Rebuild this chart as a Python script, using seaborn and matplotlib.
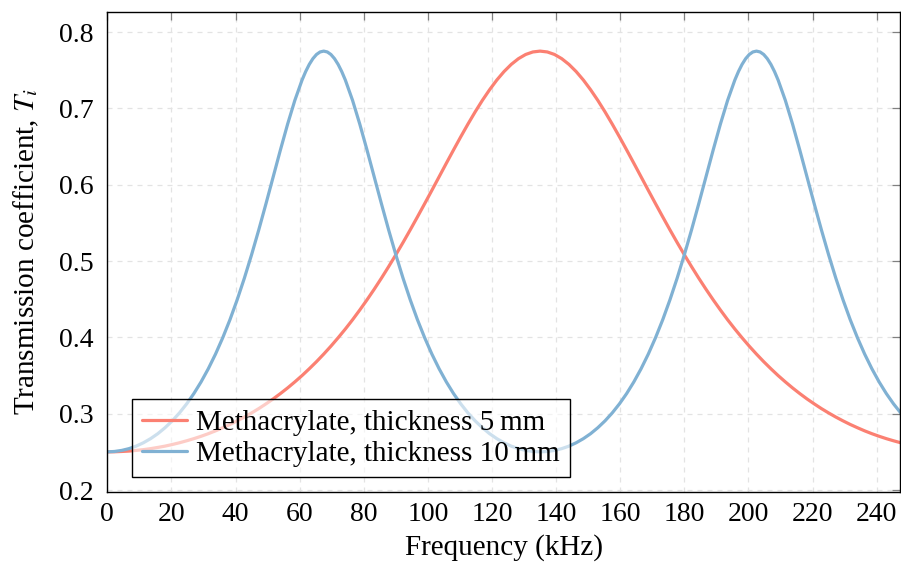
import pandas as pd
import seaborn as sns
import matplotlib.pyplot as plt

# Werte (Frequenz in kHz, Transmissionskoeffizient T_i)
freq_5mm = [0, 2.25, 4.5, 6.75, 9, 11.25, 13.5, 15.75, 18, 20.25, 22.5, 24.75, 27, 29.25,
            31.5, 33.75, 36, 38.25, 40.5, 42.75, 45, 47.25, 49.5, 51.75, 54, 56.25, 58.5,
            60.75, 63, 65.25, 67.5, 69.75, 72, 74.25, 76.5, 78.75, 81, 83.25, 85.5, 87.75,
            90, 92.25, 94.5, 96.75, 99, 101.25, 103.5, 105.75, 108, 110.25, 112.5, 114.75,
            117, 119.25, 121.5, 123.75, 126, 128.25, 130.5, 132.75, 135, 137.25, 139.5,
            141.75, 144, 146.25, 148.5, 150.75, 153, 155.25, 157.5, 159.75, 162, 164.25,
            166.5, 168.75, 171, 173.25, 175.5, 177.75, 180, 182.25, 184.5, 186.75, 189,
            191.25, 193.5, 195.75, 198, 200.25, 202.5, 204.75, 207, 209.25, 211.5, 213.75,
            216, 218.25, 220.5, 222.75, 225, 227.25, 229.5, 231.75, 234, 236.25, 238.5,
            240.75, 243, 245.25, 247.5]

t_5mm = [0.2500, 0.2501, 0.2505, 0.2510, 0.2519, 0.2529, 0.2542, 0.2558, 0.2575, 0.2596,
         0.2619, 0.2645, 0.2673, 0.2704, 0.2738, 0.2775, 0.2816, 0.2859, 0.2906, 0.2956,
         0.3010, 0.3067, 0.3129, 0.3194, 0.3264, 0.3338, 0.3417, 0.3500, 0.3589, 0.3682,
         0.3781, 0.3885, 0.3995, 0.4110, 0.4231, 0.4359, 0.4492, 0.4631, 0.4776, 0.4927,
         0.5083, 0.5244, 0.5410, 0.5580, 0.5753, 0.5928, 0.6105, 0.6282, 0.6457, 0.6629,
         0.6796, 0.6956, 0.7107, 0.7246, 0.7373, 0.7484, 0.7578, 0.7653, 0.7708, 0.7741,
         0.7752,
         0.7741, 0.7708, 0.7653, 0.7578, 0.7484, 0.7373, 0.7246, 0.7107, 0.6956, 0.6796,
         0.6629, 0.6457, 0.6282, 0.6105, 0.5928, 0.5753, 0.5580, 0.5410, 0.5244, 0.5083,
         0.4927, 0.4776, 0.4631, 0.4492, 0.4359, 0.4231, 0.4110, 0.3995, 0.3885, 0.3781,
         0.3682, 0.3589, 0.3500, 0.3417, 0.3338, 0.3264, 0.3194, 0.3129, 0.3067, 0.3010,
         0.2956, 0.2906, 0.2859, 0.2816, 0.2775, 0.2738, 0.2704, 0.2673, 0.2645, 0.2619]

freq_10mm = [0, 2.25, 4.5, 6.75, 9, 11.25, 13.5, 15.75, 18, 20.25, 22.5, 24.75, 27, 29.25,
             31.5, 33.75, 36, 38.25, 40.5, 42.75, 45, 47.25, 49.5, 51.75, 54, 56.25, 58.5,
             60.75, 61.875, 63, 64.125, 65.25, 66.375, 67.5, 68.625, 69.75, 70.875, 72,
             73.125, 74.25,
             76.5, 78.75, 81, 83.25, 85.5, 87.75, 90, 92.25, 94.5, 96.75, 99, 101.25, 103.5,
             105.75, 108, 110.25, 112.5, 114.75, 117, 119.25, 121.5, 123.75, 126, 128.25,
             130.5, 132.75, 135,
             137.25, 139.5, 141.75, 144, 146.25, 148.5, 150.75, 153, 155.25, 157.5, 159.75,
             162, 164.25, 166.5, 168.75, 171, 173.25, 175.5, 177.75, 180, 182.25, 184.5,
             186.75, 189, 191.25, 193.5,
             195.75, 196.875, 198, 199.125, 200.25, 201.375, 202.5, 203.625, 204.75,
             205.875, 207, 208.125, 209.25,
             211.5, 213.75, 216, 218.25, 220.5, 222.75, 225, 227.25, 229.5, 231.75, 234,
             236.25, 238.5, 240.75, 243, 245.25, 247.5]

t_10mm = [0.2500, 0.2505, 0.2519, 0.2542, 0.2575, 0.2619, 0.2673, 0.2738, 0.2816, 0.2906,
          0.3010, 0.3129, 0.3264, 0.3417, 0.3589, 0.3781, 0.3995, 0.4231, 0.4492, 0.4776,
          0.5083, 0.5410, 0.5753, 0.6105, 0.6457, 0.6796, 0.7107,
          0.7373, 0.7484, 0.7578, 0.7653, 0.7708, 0.7741, 0.7752, 0.7741, 0.7708, 0.7653,
          0.7578, 0.7484, 0.7373,
          0.7107, 0.6796, 0.6457, 0.6105, 0.5753, 0.5410, 0.5083, 0.4776, 0.4492, 0.4231,
          0.3995, 0.3781, 0.3589, 0.3417, 0.3264, 0.3129, 0.3010, 0.2906, 0.2816, 0.2738,
          0.2673, 0.2619, 0.2575, 0.2542, 0.2519, 0.2505, 0.2500,
          0.2505, 0.2519, 0.2542, 0.2575, 0.2619, 0.2673, 0.2738, 0.2816, 0.2906, 0.3010,
          0.3129, 0.3264, 0.3417, 0.3589, 0.3781, 0.3995, 0.4231, 0.4492, 0.4776, 0.5083,
          0.5410, 0.5753, 0.6105, 0.6457, 0.6796, 0.7107,
          0.7373, 0.7484, 0.7578, 0.7653, 0.7708, 0.7741, 0.7752, 0.7741, 0.7708, 0.7653,
          0.7578, 0.7484, 0.7373,
          0.7107, 0.6796, 0.6457, 0.6105, 0.5753, 0.5410, 0.5083, 0.4776, 0.4492, 0.4231,
          0.3995, 0.3781, 0.3589, 0.3417, 0.3264, 0.3129, 0.3010]

label_5mm = "Methacrylate, thickness 5\u2009mm"
label_10mm = "Methacrylate, thickness 10\u2009mm"
farben = {label_5mm: "#fb8072", label_10mm: "#80b1d3"}

x_ticks = [0, 20, 40, 60, 80, 100, 120, 140, 160, 180, 200, 220, 240]
y_ticks = [0.2, 0.3, 0.4, 0.5, 0.6, 0.7, 0.8]

# Long-Format fuer seaborn
df = pd.concat([
    pd.DataFrame({"Frequenz": freq_5mm, "T": t_5mm, "Probe": label_5mm}),
    pd.DataFrame({"Frequenz": freq_10mm, "T": t_10mm, "Probe": label_10mm}),
], ignore_index=True)

sns.set_theme(style="white")
plt.rcParams["font.family"] = ["Liberation Serif", "DejaVu Serif"]
plt.rcParams["mathtext.fontset"] = "stix"
plt.rcParams["text.color"] = "black"
plt.rcParams["axes.labelcolor"] = "black"

fig = plt.figure(figsize=(9.01, 5.70), dpi=100)
ax = fig.add_axes([0.1191, 0.137, 0.8799, 0.842])

sns.lineplot(data=df, x="Frequenz", y="T", hue="Probe", palette=farben,
             estimator=None, linewidth=2.3, ax=ax)

ax.set_xlim(0, 247.3)
ax.set_ylim(0.1975, 0.8265)
ax.set_xticks(x_ticks)
ax.set_yticks(y_ticks)
ax.set_yticklabels([f"{v:.1f}" for v in y_ticks])

# Gitter gestrichelt wie im Original
ax.grid(True, color="#e3e3e3", linestyle=(0, (4, 4)), linewidth=0.9)
ax.set_axisbelow(True)

ax.tick_params(direction="in", length=6, width=0.9, color="#808080",
               top=True, right=True, labelsize=20, labelcolor="black")
ax.tick_params(axis="x", pad=7)
ax.tick_params(axis="y", pad=10)
for s in ax.spines.values():
    s.set_color("black")
    s.set_linewidth(1.0)

ax.set_xlabel("Frequency (kHz)", fontsize=21)
ax.set_ylabel("Transmission coefficient, $T_i$", fontsize=21)
ax.xaxis.set_label_coords(0.5, -0.088)
ax.yaxis.set_label_coords(-0.084, 0.5)

leg = ax.legend(loc="lower left", bbox_to_anchor=(0.031, 0.031), borderaxespad=0,
                fontsize=21, fancybox=False, handlelength=1.55, handletextpad=0.3,
                labelspacing=0.15, borderpad=0.35)
rahmen = leg.get_frame()
rahmen.set_facecolor((1, 1, 1, 0.6))
rahmen.set_edgecolor("black")
rahmen.set_alpha(None)
rahmen.set_linewidth(1.0)

plt.savefig("out.png", dpi=100)
plt.close()
